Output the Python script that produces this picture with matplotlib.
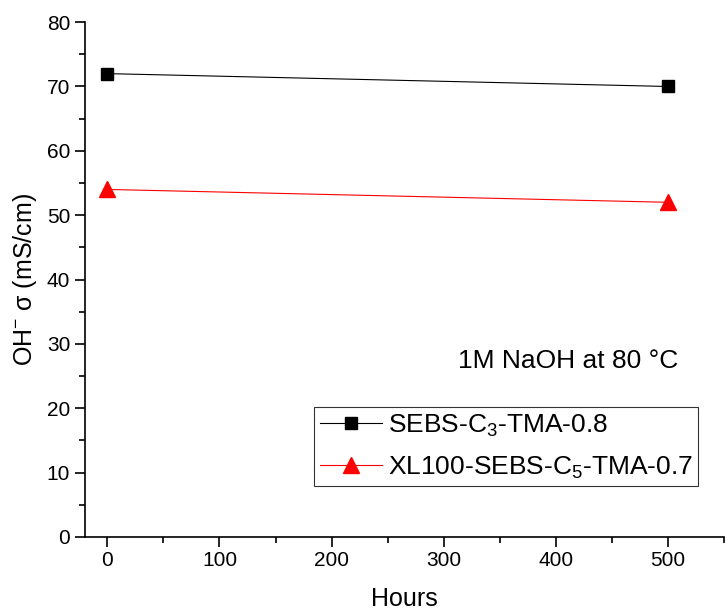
import matplotlib
matplotlib.use("Agg")
import matplotlib.pyplot as plt
from matplotlib.ticker import MultipleLocator

plt.rcParams['font.family'] = ['Liberation Sans', 'DejaVu Sans']
plt.rcParams['mathtext.fontset'] = 'custom'
plt.rcParams['mathtext.rm'] = 'Liberation Sans'
plt.rcParams['mathtext.it'] = 'Liberation Sans'
plt.rcParams['mathtext.default'] = 'regular'

hours = [0, 500]
sebs_c3 = [72, 70]
xl100 = [54, 52]
labels = ['SEBS-C$_3$-TMA-0.8', 'XL100-SEBS-C$_5$-TMA-0.7']

fig = plt.figure(figsize=(7.25, 6.15), dpi=100)
ax = fig.add_axes([0.117, 0.127, 0.882, 0.837])

ax.plot(hours, sebs_c3, color='black', lw=0.8, marker='s', ms=8.5, label=labels[0], clip_on=False)
ax.plot(hours, xl100, color='red', lw=0.8, marker='^', ms=11, label=labels[1], clip_on=False)

ax.set_xlim(-20, 550)
ax.set_ylim(0, 80)
ax.xaxis.set_major_locator(MultipleLocator(100))
ax.xaxis.set_minor_locator(MultipleLocator(50))
ax.yaxis.set_major_locator(MultipleLocator(10))
ax.yaxis.set_minor_locator(MultipleLocator(5))
ax.tick_params(which='major', direction='out', length=7, width=1.2, labelsize=15)
ax.tick_params(which='minor', direction='out', length=4, width=1.2)
for s in ['top', 'right']:
    ax.spines[s].set_visible(False)
for s in ['left', 'bottom']:
    ax.spines[s].set_linewidth(1.2)

ax.set_xlabel('Hours', fontsize=18, labelpad=12)
ax.set_ylabel('OH$^{-}$ σ (mS/cm)', fontsize=18, labelpad=6)

ax.text(411, 27.3, '1M NaOH at 80 °C', fontsize=19, ha='center', va='center')

leg = ax.legend(loc='lower right', bbox_to_anchor=(0.959, 0.099), fontsize=19, frameon=True,
                fancybox=False, edgecolor='black', handlelength=2.35, borderpad=0.2,
                labelspacing=0.6, handletextpad=0.23, borderaxespad=0)
leg.get_frame().set_linewidth(0.8)

fig.savefig('out.png', dpi=100)
